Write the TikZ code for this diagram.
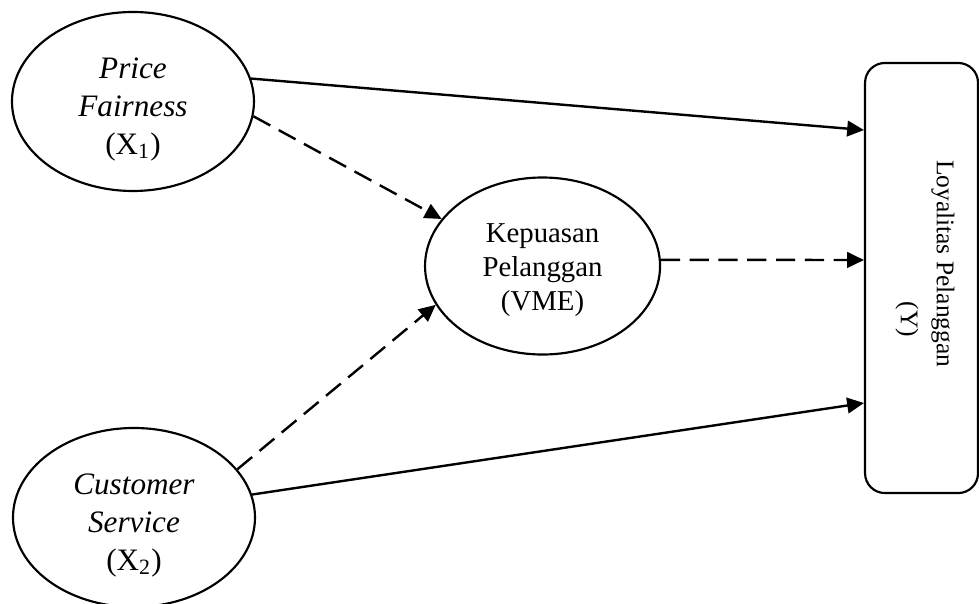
\documentclass[tikz,border=0pt]{standalone}
\usepackage{fontspec}
\setmainfont{Liberation Serif}
\usetikzlibrary{shapes,arrows.meta}
\newcommand{\toppad}[1][15pt]{\rule{0pt}{#1}}

\begin{document}
\begin{tikzpicture}[
  var/.style={draw, ellipse, line width=0.9pt, inner sep=0pt, align=center,
    minimum width=3.545cm, minimum height=2.622cm},
  line arrow/.style={line width=1pt, -{Triangle[length=7pt,width=6.5pt]}},
  dash arrow/.style={line arrow, dash pattern=on 8pt off 4pt}]
\useasboundingbox (0,0) rectangle (14.342,8.834);
\node [var, font=\fontsize{13}{15.8}\selectfont] (pf) at (1.948,7.347)
  {\toppad\textit{Price}\\ \textit{Fairness}\\ (X\textsubscript{1})};
\node [var, font=\fontsize{13}{15.8}\selectfont] (cs) at (1.963,1.253)
  {\toppad\textit{Customer}\\ \textit{Service}\\ (X\textsubscript{2})};
\node [var, font=\fontsize{12}{14.2}\selectfont, minimum width=3.443cm, minimum height=2.593cm] (kp) at (7.948,4.937)
  {\toppad[11.5pt]Kepuasan\\ Pelanggan\\ (VME)};
\node [draw, rectangle, rounded corners=0.29cm, line width=0.9pt, minimum width=1.655cm, minimum height=6.3cm] (loy) at (13.5,4.761) {};
\node [rotate=-90, inner sep=0pt, align=left, font=\fontsize{10.6}{15}\selectfont] (loytext) at ([xshift=0.05cm,yshift=0.21cm]loy.center)
  {Loyalitas Pelanggan\\ \hspace*{59pt}(Y)};
% direct effects
\draw [line arrow] (pf.11) -- ([yshift=2.168cm]loy.west);
\draw [line arrow] (cs.11) -- ([yshift=-1.831cm]loy.west);
% mediated
\draw [dash arrow] (pf.-7.5) -- (kp.155);
\draw [dash arrow] (cs.25) -- (kp.200.5);
\draw [dash arrow] (kp.3) -- ([yshift=0.264cm]loy.west);
\end{tikzpicture}
\end{document}
